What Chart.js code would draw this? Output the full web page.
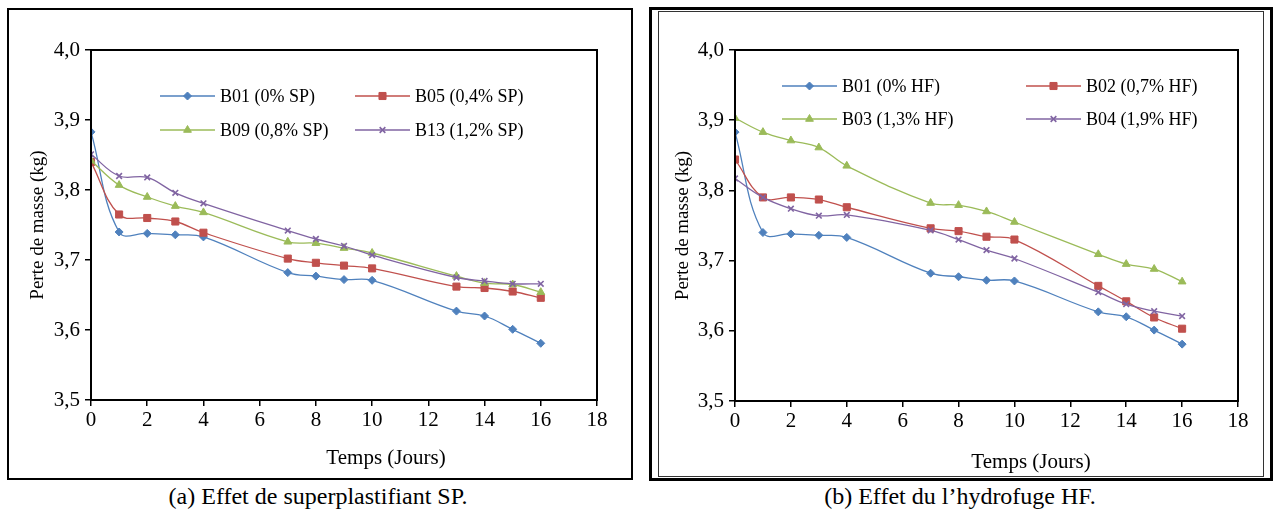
<!DOCTYPE html>
<html>
<head>
<meta charset="utf-8">
<script src="https://cdn.jsdelivr.net/npm/chart.js@4/dist/chart.umd.min.js"></script>
<style>
body{margin:0;background:#fff;width:1274px;height:520px;position:relative;overflow:hidden;font-family:"Liberation Serif",serif}
.box{position:absolute;box-sizing:border-box;border:2px solid #000}
#boxA{left:7px;top:8px;width:626px;height:472px}
#boxB{left:649px;top:7px;width:624px;height:474px;border-width:3px}
#innerB{left:658px;top:11px;width:606px;height:466px;border:1.5px solid #333}
.wrap{position:absolute}
#wrapA{left:9px;top:10px;width:620px;height:466px}
#wrapB{left:661px;top:13px;width:600px;height:460px}
.cap{position:absolute;top:483px;font-size:24px;text-align:center;width:620px}
</style>
</head>
<body>
<div class="box" id="boxA"></div>
<div class="box" id="boxB"></div>
<div class="box" id="innerB"></div>
<div class="wrap" id="wrapA"><canvas id="chartA" width="620" height="466"></canvas></div>
<div class="wrap" id="wrapB"><canvas id="chartB" width="600" height="460"></canvas></div>
<div class="cap" style="left:8px">(a) Effet de superplastifiant SP.</div>
<div class="cap" style="left:650px">(b) Effet du l’hydrofuge HF.</div>
<script>
// jours de mesure
const days = [0, 1, 2, 3, 4, 7, 8, 9, 10, 13, 14, 15, 16];

// (a) superplastifiant
const labelsSP = ['B01 (0% SP)', 'B05 (0,4% SP)', 'B09 (0,8% SP)', 'B13 (1,2% SP)'];
const b01 = [3.883, 3.740, 3.738, 3.736, 3.733, 3.682, 3.677, 3.672, 3.671, 3.627, 3.620, 3.601, 3.581];
const b05 = [3.840, 3.765, 3.760, 3.755, 3.739, 3.702, 3.696, 3.692, 3.688, 3.662, 3.660, 3.655, 3.646];
const b09 = [3.842, 3.807, 3.790, 3.777, 3.768, 3.726, 3.724, 3.717, 3.710, 3.677, 3.667, 3.665, 3.654];
const b13 = [3.851, 3.820, 3.818, 3.796, 3.781, 3.742, 3.730, 3.720, 3.707, 3.675, 3.670, 3.666, 3.666];

// (b) hydrofuge
const labelsHF = ['B01 (0% HF)', 'B02 (0,7% HF)', 'B03 (1,3% HF)', 'B04 (1,9% HF)'];
const b02 = [3.844, 3.790, 3.790, 3.787, 3.776, 3.746, 3.742, 3.734, 3.730, 3.664, 3.642, 3.619, 3.603];
const b03 = [3.903, 3.883, 3.871, 3.861, 3.835, 3.782, 3.779, 3.770, 3.755, 3.709, 3.695, 3.688, 3.670];
const b04 = [3.817, 3.790, 3.774, 3.764, 3.765, 3.743, 3.730, 3.715, 3.703, 3.655, 3.638, 3.628, 3.621];

const xTicks = [0, 2, 4, 6, 8, 10, 12, 14, 16, 18];
const yTicks = [3.5, 3.6, 3.7, 3.8, 3.9, 4.0];

const colors = ['#4F81BD', '#C0504D', '#9BBB59', '#8064A2'];
const styles = [
    {pointStyle: 'rectRot', radius: 4},
    {pointStyle: 'rect', radius: 5},
    {pointStyle: 'triangle', radius: 4.5},
    {pointStyle: 'crossRot', radius: 4}
];
const serif = '"Liberation Serif", "Times New Roman", serif';

function makeSets(labels, series) {
    return series.map((vals, i) => ({
        label: labels[i],
        data: vals.map((v, k) => ({x: days[k], y: v})),
        borderColor: colors[i],
        backgroundColor: colors[i],
        borderWidth: 1.3,
        pointStyle: styles[i].pointStyle,
        pointRadius: styles[i].radius,
        pointBorderWidth: i === 3 ? 1.6 : 1,
        tension: 0.4,
        order: 4 - i
    }));
}

// cadre + légende interne + titre de l'axe des x
const decor = {
    id: 'decor',
    afterDraw(chart, args, opts) {
        const {ctx, chartArea: a} = chart;
        ctx.save();
        ctx.strokeStyle = '#000';
        ctx.lineWidth = 2;
        ctx.strokeRect(a.left, a.top, a.right - a.left, a.bottom - a.top);

        ctx.font = '18px ' + serif;
        ctx.textBaseline = 'middle';
        ctx.fillStyle = '#000';
        chart.data.datasets.forEach((ds, i) => {
            const x = a.left + opts.cols[i % 2];
            const y = a.top + opts.rows[Math.floor(i / 2)];
            ctx.strokeStyle = ds.borderColor;
            ctx.fillStyle = ds.backgroundColor;
            ctx.lineWidth = 1.3;
            ctx.beginPath();
            ctx.moveTo(x, y);
            ctx.lineTo(x + 55, y);
            ctx.stroke();
            ctx.lineWidth = ds.pointBorderWidth;
            Chart.helpers.drawPoint(ctx, {pointStyle: ds.pointStyle, radius: ds.pointRadius, rotation: 0, borderWidth: ds.pointBorderWidth}, x + 27.5, y);
            ctx.fillStyle = '#000';
            ctx.textAlign = 'left';
            ctx.fillText(ds.label, x + 60, y + 1);
        });

        ctx.font = '21px ' + serif;
        ctx.textAlign = 'center';
        ctx.fillText('Temps (Jours)', opts.xTitle[0], opts.xTitle[1]);
        ctx.restore();
    }
};

function makeChart(id, labels, series, lay) {
    return new Chart(document.getElementById(id), {
        type: 'line',
        data: {datasets: makeSets(labels, series)},
        plugins: [decor],
        options: {
            responsive: false,
            animation: false,
            layout: {padding: {left: 0, top: lay.top, right: lay.right, bottom: 0}},
            plugins: {
                legend: {display: false},
                tooltip: {enabled: false},
                decor: {cols: lay.cols, rows: lay.rows, xTitle: lay.xTitle}
            },
            scales: {
                x: {
                    type: 'linear',
                    min: 0,
                    max: 18,
                    afterFit: s => { s.height = lay.xh; },
                    afterBuildTicks: s => { s.ticks = xTicks.map(v => ({value: v})); },
                    ticks: {color: '#000', font: {family: serif, size: 21}, padding: 2, maxRotation: 0,
                        callback: v => String(v)},
                    grid: {drawOnChartArea: false, color: '#000', lineWidth: 1.5, tickLength: 6},
                    border: {color: '#000', width: 2}
                },
                y: {
                    min: 3.5,
                    max: 4.0,
                    afterFit: s => { s.width = lay.yw; },
                    afterBuildTicks: s => { s.ticks = yTicks.map(v => ({value: v})); },
                    ticks: {color: '#000', font: {family: serif, size: 21}, padding: 5,
                        callback: v => v.toFixed(1).replace('.', ',')},
                    grid: {drawOnChartArea: false, color: '#000', lineWidth: 1.5, tickLength: 6},
                    border: {color: '#000', width: 2},
                    title: {display: true, text: 'Perte de masse (kg)', color: '#000',
                        font: {family: serif, size: 19}, padding: {top: lay.ytp, bottom: 0}}
                }
            }
        }
    });
}

makeChart('chartA', labelsSP, [b01, b05, b09, b13], {
    top: 40, right: 32, yw: 82, xh: 76, ytp: 18,
    cols: [69, 264], rows: [46, 80], xTitle: [377, 448]
});
makeChart('chartB', labelsHF, [b01, b02, b03, b04], {
    top: 37, right: 23, yw: 74, xh: 72, ytp: 11,
    cols: [47, 291], rows: [36, 69], xTitle: [370, 449]
});
</script>
</body>
</html>
